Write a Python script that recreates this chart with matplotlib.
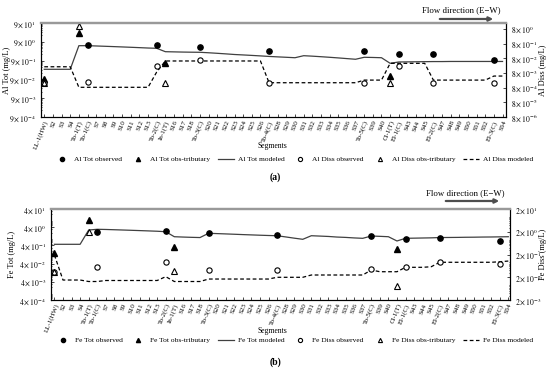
import matplotlib
matplotlib.use('Agg')
import matplotlib.pyplot as plt
from matplotlib.lines import Line2D
from matplotlib.ticker import NullFormatter


plt.rcParams['font.family'] = ['Liberation Serif', 'DejaVu Serif']
plt.rcParams['mathtext.fontset'] = 'stix'


segments = ['LL-1(HW)', 'S2', 'S3', 'S4', 'To-1(T)', 'To-1(C)', 'S7', 'S8', 'S9',
            'S10', 'S11', 'S12', 'S13', 'To-2(C)', 'In-1(T)', 'S16', 'S17', 'S18',
            'To-3(C)', 'S20', 'S21', 'S22', 'S23', 'S24', 'S25', 'S26', 'To-4(C)',
            'S28', 'S29', 'S30', 'S31', 'S32', 'S33', 'S34', 'S35', 'S36', 'S37',
            'To-5(C)', 'S39', 'S40', 'Cl-1(T)', 'El-1(C)', 'S43', 'S44', 'S45',
            'El-2(C)', 'S47', 'S48', 'S49', 'S50', 'S51', 'S52', 'El-3(C)', 'S54']

main_sites = ['To-1(C)', 'To-2(C)', 'To-3(C)', 'To-4(C)', 'To-5(C)',
              'El-1(C)', 'El-2(C)', 'El-3(C)']
diss_sites = ['LL-1(HW)'] + main_sites
trib_sites = ['LL-1(HW)', 'To-1(T)', 'In-1(T)', 'Cl-1(T)']

# Al (a)
al_tot_model = [0.31, 0.31, 0.31, 0.31, 5.59, 5.6, 5.4, 5.2, 5.0, 4.8, 4.6, 4.4,
                4.2, 4.06, 2.68, 2.62, 2.56, 2.52, 2.49, 2.35, 2.2, 2.05, 1.9, 1.8,
                1.7, 1.6, 1.5, 1.42, 1.35, 1.28, 1.64, 1.55, 1.45, 1.35, 1.25, 1.15,
                1.06, 1.35, 1.32, 1.28, 0.646, 0.76, 0.77, 0.78, 0.79, 0.80, 0.80,
                0.81, 0.81, 0.81, 0.81, 0.81, 0.81, 0.81]
al_diss_model = [0.021] * 4 + [8.4e-4] * 9 + [9.2e-3] + [0.052] * 12 + \
                [1.72e-3] * 11 + [2.6e-3] * 3 + [0.036] * 5 + [2.6e-3] * 7 + \
                [4.9e-3] * 2
al_tot_obs = [6.1, 6.1, 4.6, 3.0, 2.9, 1.95, 2.0, 0.97]
al_diss_obs = [1.6e-3, 1.8e-3, 0.024, 0.060, 1.7e-3, 1.7e-3, 0.024, 1.7e-3, 1.7e-3]
al_tot_trib = [0.091, 25.5, 0.70, 0.137]
al_diss_trib = [1.6e-3, 12.4, 1.7e-3, 1.6e-3]

# Fe (b)
fe_tot_model = [0.46, 0.46, 0.46, 0.46, 2.8, 3.07, 3.0, 2.9, 2.8, 2.7, 2.6, 2.5,
                2.4, 2.26, 1.20, 1.15, 1.11, 1.08, 1.85, 1.78, 1.71, 1.64, 1.57,
                1.51, 1.45, 1.40, 1.36, 1.17, 1.0, 0.865, 1.36, 1.30, 1.24, 1.15,
                1.10, 1.03, 0.98, 1.31, 1.26, 1.20, 0.70, 0.98, 1.0, 1.02, 1.04,
                1.08, 1.09, 1.10, 1.12, 1.13, 1.15, 1.16, 1.18, 1.2]
fe_diss_model = [0.19] + [0.0151] * 3 + [0.013] * 2 + [0.0144] * 7 + [0.0212] + \
                [0.013] * 4 + [0.0167] * 8 + [0.0199] * 4 + [0.0251] * 7 + \
                [0.0417] + [0.035] * 3 + [0.0547] * 3 + [0.058] + [0.091] * 7 + \
                [0.096, 0.103]
fe_tot_obs = [2.26, 2.47, 1.85, 1.49, 1.31, 0.865, 0.98, 0.70]
fe_diss_obs = [0.035, 0.058, 0.091, 0.042, 0.042, 0.045, 0.055, 0.091, 0.074]
fe_tot_trib = [0.147, 9.95, 0.34, 0.244]
fe_diss_trib = [0.035, 2.01, 0.039, 0.0082]

panels = [
    dict(el='Al', rect=[41 / 550, 1 - 117 / 371, 465 / 550, 94 / 371],
         xlim=(0.62, 54.4), tot_lim=(9e-4, 90), diss_lim=(8e-6, 20),
         tot_base=9, tot_exp=range(-4, 2), diss_base=8, diss_exp=range(-6, 1),
         tot_model=al_tot_model, diss_model=al_diss_model,
         tot_obs=al_tot_obs, diss_obs=al_diss_obs,
         tot_trib=al_tot_trib, diss_trib=al_diss_trib,
         ylab_x=(7.5, 543), legend_y=159, tag='(a)', tag_y=177,
         seg_y=146, flow=(10, 19, 427, 495, 437, 496)),
    dict(el='Fe', rect=[51 / 550, 1 - 300 / 371, 459 / 550, 91 / 371],
         xlim=(0.6, 54.2), tot_lim=(4e-4, 40), diss_lim=(2e-3, 20),
         tot_base=4, tot_exp=range(-4, 2), diss_base=2, diss_exp=range(-3, 2),
         tot_model=fe_tot_model, diss_model=fe_diss_model,
         tot_obs=fe_tot_obs, diss_obs=fe_diss_obs,
         tot_trib=fe_tot_trib, diss_trib=fe_diss_trib,
         ylab_x=(12, 543), legend_y=340, tag='(b)', tag_y=362,
         seg_y=331, flow=(193, 201, 430, 500, 443, 502)),
]

x = list(range(1, len(segments) + 1))


def pos(sites):
    return [segments.index(s) + 1 for s in sites]


def sci(base, e):
    return r'$%d\times10^{%d}$' % (base, e)


fig = plt.figure(figsize=(5.5, 3.71), dpi=100)
ms = 3.8

for p in panels:
    ax = fig.add_axes(p['rect'])
    ax2 = ax.twinx()

    ax.plot(x, p['tot_model'], '-', color='0.25', lw=0.9, zorder=2)
    ax.plot(pos(main_sites), p['tot_obs'], 'o', color='k', ms=ms, zorder=3)
    ax.plot(pos(trib_sites), p['tot_trib'], '^', color='k', ms=ms, zorder=3)
    ax2.plot(x, p['diss_model'], '--', color='k', lw=0.9, dashes=(3, 2))
    ax2.plot(pos(diss_sites), p['diss_obs'], 'o', mfc='white', mec='k',
             mew=0.8, ms=ms)
    ax2.plot(pos(trib_sites), p['diss_trib'], '^', mfc='none', mec='k',
             mew=0.8, ms=ms)

    ax.set_yscale('log')
    ax2.set_yscale('log')
    ax.set_ylim(*p['tot_lim'])
    ax2.set_ylim(*p['diss_lim'])
    ax.set_xlim(*p['xlim'])

    tt = [p['tot_base'] * 10.0 ** e for e in p['tot_exp']]
    ax.set_yticks(tt, [sci(p['tot_base'], e) for e in p['tot_exp']])
    dt = [p['diss_base'] * 10.0 ** e for e in p['diss_exp']]
    ax2.set_yticks(dt, [sci(p['diss_base'], e) for e in p['diss_exp']])
    ax.yaxis.set_minor_formatter(NullFormatter())
    ax2.yaxis.set_minor_formatter(NullFormatter())

    ax.set_xticks(x, segments, rotation=68, ha='right', rotation_mode='anchor',
                  fontsize=5)
    ax.tick_params(axis='x', direction='in', length=2, width=0.5, pad=2)
    ax.tick_params(axis='y', which='both', direction='in', labelsize=5.5,
                   width=0.5, length=2)
    ax.tick_params(axis='y', which='minor', length=1)
    ax2.tick_params(axis='y', which='both', direction='in', labelsize=5.5,
                    width=0.5, length=2)
    ax2.tick_params(axis='y', which='minor', length=1)

    for a in (ax, ax2):
        for s in ('left', 'right', 'bottom'):
            a.spines[s].set_linewidth(0.8)
        a.spines['top'].set_color('0.6')
        a.spines['top'].set_linewidth(1.6)

    cy = p['rect'][1] + p['rect'][3] / 2
    fig.text(p['ylab_x'][0] / 550, cy, p['el'] + ' Tot (mg/L)', rotation=90,
             ha='center', va='center', fontsize=6)
    fig.text(p['ylab_x'][1] / 550, cy, p['el'] + ' Diss (mg/L)', rotation=90,
             ha='center', va='center', fontsize=6)
    fig.text(272 / 550, 1 - p['seg_y'] / 371, 'Segments', ha='center',
             va='center', fontsize=5.5)

    ty, ay, tx0, tx1, ax0, ax1 = p['flow']
    fig.text((tx0 + tx1) / 2 / 550, 1 - ty / 371, 'Flow direction (E\u2212W)',
             ha='center', va='center', fontsize=6.3)
    ax.annotate('', xy=(ax1 / 550, 1 - ay / 371), xytext=(ax0 / 550, 1 - ay / 371),
                xycoords='figure fraction', textcoords='figure fraction',
                arrowprops=dict(arrowstyle='-|>', color='0.3', lw=1.6,
                                mutation_scale=6))

    el = p['el']
    handles = [
        Line2D([], [], ls='none', marker='o', color='k', ms=ms - 0.8),
        Line2D([], [], ls='none', marker='^', color='k', ms=ms - 0.8),
        Line2D([], [], ls='-', color='0.25', lw=0.9),
        Line2D([], [], ls='none', marker='o', mfc='white', mec='k', mew=0.8,
               ms=ms - 0.8),
        Line2D([], [], ls='none', marker='^', mfc='none', mec='k', mew=0.8,
               ms=ms - 0.8),
        Line2D([], [], ls='--', color='k', lw=0.9, dashes=(3, 2)),
    ]
    labels = [el + ' Tot observed', el + ' Tot obs-tributary', el + ' Tot modeled',
              el + ' Diss observed', el + ' Diss obs-tributary',
              el + ' Diss modeled']
    ly = 1 - p['legend_y'] / 371
    fig.legend(handles, labels, loc='center', ncol=6, frameon=False,
               fontsize=5.4, bbox_to_anchor=(0.534, ly),
               handlelength=2.2, handletextpad=0.5, columnspacing=1.0)

    fig.text(275 / 550, 1 - p['tag_y'] / 371, p['tag'], ha='center',
             va='center', fontsize=7, fontweight='bold')

fig.savefig('out.png', dpi=100)
